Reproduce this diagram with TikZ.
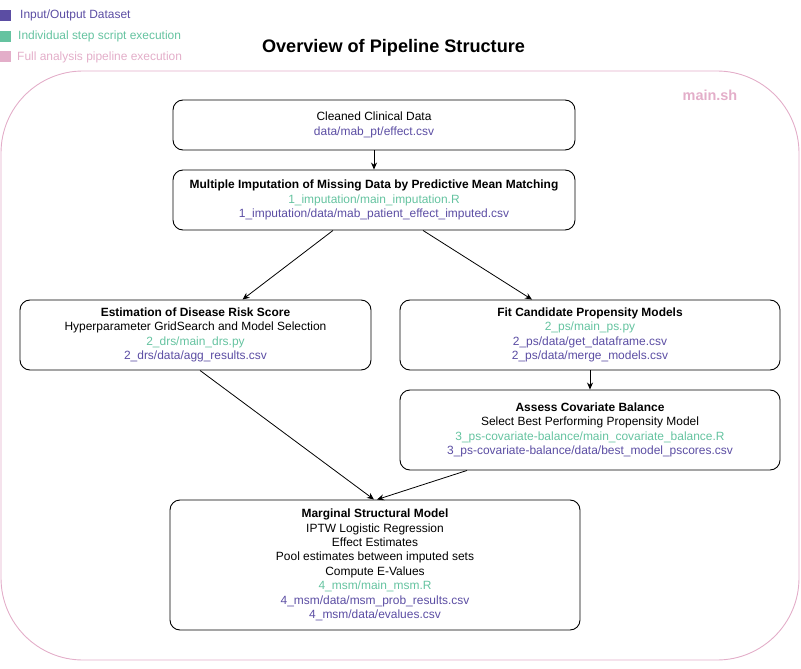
\documentclass[tikz,border=0pt]{standalone}
\usepackage{fontspec}
\setmainfont{Liberation Sans}
\usetikzlibrary{arrows.meta}
\definecolor{iodata}{HTML}{5B4DA3}
\definecolor{stepscript}{HTML}{65C3A0}
\definecolor{fullpipe}{HTML}{E3AEC9}
\newcommand{\io}[1]{\textcolor{iodata}{#1}}
\newcommand{\scr}[1]{\textcolor{stepscript}{#1}}

\begin{document}
\begin{tikzpicture}[x=1bp,y=-1bp,
    stream/.style={-{Stealth[length=7bp,width=6bp]},line width=0.8bp},
    stage/.style={draw,line width=0.9bp,rounded corners=10bp,align=center,
                  inner sep=0pt,font=\fontsize{12}{14.4}\selectfont},
    key/.style={minimum size=11bp,inner sep=0pt},
    keytext/.style={right,inner sep=0pt,font=\fontsize{12}{14.4}\selectfont}]
    \useasboundingbox (0,0) rectangle (801,669);
    %legend
    \node [key,fill=iodata] (key io) at (5.5,15.5){};
    \node [keytext,text=iodata] (key io text) at (20,15.5){Input/Output Dataset};
    \node [key,fill=stepscript] (key step) at (5.5,36.5){};
    \node [keytext,text=stepscript] (key step text) at (18,36.5){Individual step script execution};
    \node [key,fill=fullpipe] (key full) at (5.5,57){};
    \node [keytext,text=fullpipe] (key full text) at (17,57){Full analysis pipeline execution};
    %title
    \node [font=\fontsize{18.2}{21}\selectfont\bfseries] (title) at (393.5,47.5){Overview of Pipeline Structure};
    %main.sh
    \draw [fullpipe,line width=0.9bp,rounded corners=82bp] (1,71) rectangle (799,660);
    \node [text=fullpipe,font=\fontsize{14.5}{16}\selectfont\bfseries] (mainsh) at (710,95){main.sh};
    %clean data
    \node [stage,minimum width=402bp,minimum height=50bp] (clean) at (374,125)
        {Cleaned Clinical Data\\ \io{data/mab\_pt/effect.csv}};
    %imputation
    \node [stage,minimum width=402bp,minimum height=60bp] (imput) at (374,200)
        {\textbf{Multiple Imputation of Missing Data by Predictive Mean Matching}\\
         \scr{1\_imputation/main\_imputation.R}\\
         \io{1\_imputation/data/mab\_patient\_effect\_imputed.csv}};
    %drs
    \node [stage,minimum width=351bp,minimum height=70bp] (drs) at (195.5,335)
        {\textbf{Estimation of Disease Risk Score}\\
         Hyperparameter GridSearch and Model Selection\\
         \scr{2\_drs/main\_drs.py}\\
         \io{2\_drs/data/agg\_results.csv}};
    %ps
    \node [stage,minimum width=380bp,minimum height=70bp] (ps) at (590,335)
        {\textbf{Fit Candidate Propensity Models}\\
         \scr{2\_ps/main\_ps.py}\\
         \io{2\_ps/data/get\_dataframe.csv}\\
         \io{2\_ps/data/merge\_models.csv}};
    %balance
    \node [stage,minimum width=380bp,minimum height=80bp] (cov) at (590,430)
        {\textbf{Assess Covariate Balance}\\
         Select Best Performing Propensity Model\\
         \scr{3\_ps-covariate-balance/main\_covariate\_balance.R}\\
         \io{3\_ps-covariate-balance/data/best\_model\_pscores.csv}};
    %msm
    \node [stage,minimum width=410bp,minimum height=130bp] (msm) at (375,565)
        {\textbf{Marginal Structural Model}\\
         IPTW Logistic Regression\\
         Effect Estimates\\
         Pool estimates between imputed sets\\
         Compute E-Values\\
         \scr{4\_msm/main\_msm.R}\\
         \io{4\_msm/data/msm\_prob\_results.csv}\\
         \io{4\_msm/data/evalues.csv}};
    %flow
    \draw [stream] (clean) -- (imput);
    \draw [stream] ([xshift=-41bp]imput.south) -- ([xshift=47bp]drs.north);
    \draw [stream] ([xshift=49bp]imput.south) -- ([xshift=-58bp]ps.north);
    \draw [stream] (ps) -- (cov);
    \draw [stream] ([xshift=4.5bp]drs.south) -- ([xshift=-1bp]msm.north);
    \draw [stream] ([xshift=-123bp]cov.south) -- ([xshift=2bp]msm.north);
\end{tikzpicture}
\end{document}
